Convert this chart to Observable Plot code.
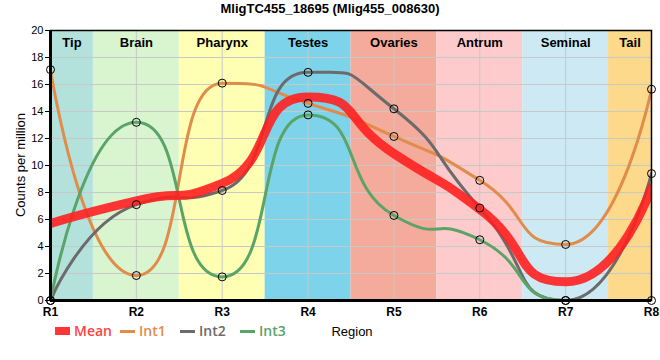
<!DOCTYPE html>
<html><head><meta charset="utf-8">
<script src="https://cdn.jsdelivr.net/npm/d3@7"></script>
<script src="https://cdn.jsdelivr.net/npm/@observablehq/plot@0.6"></script>
<style>
body{margin:0;font-family:"Liberation Sans",Arial,sans-serif;background:#fff;}
#wrap{position:relative;width:660px;height:360px;overflow:hidden;}
#wrap svg{position:absolute;left:0;top:0;}
.abs{position:absolute;white-space:nowrap;}
#title{left:0;top:1px;width:660px;text-align:center;font-weight:bold;font-size:13px;}
#ylab{left:20px;top:165px;transform:translate(-50%,-50%) rotate(-90deg);font-size:13px;}
#xlab{left:352px;top:331px;transform:translate(-50%,-50%);font-size:13px;}
.leg{position:absolute;top:323px;font-size:14px;font-family:"Open Sans",sans-serif;font-weight:600;line-height:16px;}
.sw{position:absolute;}
</style></head><body><div id="wrap">
<div id="title" class="abs">MligTC455_18695 (Mlig455_008630)</div>
<div id="ylab" class="abs">Counts per million</div>
<div id="xlab" class="abs">Region</div>
</div>
<script>
const regions = ["R1","R2","R3","R4","R5","R6","R7","R8"];
const bands = ["Tip","Brain","Pharynx","Testes","Ovaries","Antrum","Seminal","Tail"];
const bandColors = ["#b3e2dd","#d9f5d0","#ffffb4","#7dd3ea","#f4ab9b","#fdcbcb","#cdeaf4","#fdd98b"];
const seriesNames = ["Mean","Int1","Int2","Int3"];
const seriesColors = ["#ff2020","#e08c4a","#6b6b6b","#5aa469"];
const mean = [5.7, 7.38, 8.67, 15.08, 10.88, 6.75, 1.38, 8.35];
const int1 = [17.1, 1.85, 16.1, 14.6, 12.15, 8.9, 4.15, 15.65];
const int2 = [0, 7.1, 8.15, 16.9, 14.2, 6.85, 0, 9.4];
const int3 = [0, 13.2, 1.75, 13.75, 6.3, 4.5, 0, 0];
const yTicks = [0,2,4,6,8,10,12,14,16,18,20];

const pos = regions.map((d,i)=>i+1);
const ints = [int1,int2,int3];

// smooth spline: monotone tangents, long Bezier handles, free ends
function smoothCurve(k){
  return context => {
    let xs, ys;
    return {
      areaStart(){}, areaEnd(){},
      lineStart(){ xs=[]; ys=[]; },
      point(x,y){ xs.push(+x); ys.push(+y); },
      lineEnd(){
        const n = xs.length;
        if (!n) return;
        context.moveTo(xs[0], ys[0]);
        if (n === 1) return;
        const s = [];
        for (let i=0;i<n-1;i++) s.push((ys[i+1]-ys[i])/(xs[i+1]-xs[i]));
        const m = new Array(n).fill(0);
        for (let i=1;i<n-1;i++){
          const h0 = xs[i]-xs[i-1], h1 = xs[i+1]-xs[i];
          const s0 = s[i-1], s1 = s[i];
          const p = (s0*h1 + s1*h0)/(h0+h1);
          m[i] = (Math.sign(s0)+Math.sign(s1))*Math.min(Math.abs(s0),Math.abs(s1),0.5*Math.abs(p)) || 0;
        }
        for (let i=0;i<n-1;i++){
          const h = xs[i+1]-xs[i];
          const c1x = i===0 ? xs[0] : xs[i]+k*h;
          const c1y = i===0 ? ys[0] : ys[i]+m[i]*k*h;
          const c2x = i===n-2 ? xs[n-1] : xs[i+1]-k*h;
          const c2y = i===n-2 ? ys[n-1] : ys[i+1]-m[i+1]*k*h;
          context.bezierCurveTo(c1x,c1y,c2x,c2y,xs[i+1],ys[i+1]);
        }
      }
    };
  };
}
const curve = smoothCurve(0.62);

const lineMark = (vals, color, w, op) => Plot.line(pos, {
  x: d=>d, y: (d,i)=>vals[i], curve, stroke: color,
  strokeWidth: w, strokeOpacity: op, clip: true
});

const chart = Plot.plot({
  width:660, height:360, marginTop:30, marginBottom:60, marginLeft:50, marginRight:9,
  x:{domain:[1,8], axis:null},
  y:{domain:[0,20], axis:null},
  color:{type:"identity"},
  style:{fontFamily:"'Liberation Sans',Arial,sans-serif", background:"transparent"},
  marks:[
    Plot.rect(bands, {x1:(d,i)=>i+0.5, x2:(d,i)=>i+1.5, y1:0, y2:20, fill:(d,i)=>bandColors[i], clip:true}),
    Plot.ruleX(pos, {stroke:"#c8c8c8", strokeWidth:1}),
    Plot.ruleY(yTicks, {stroke:"#c8c8c8", strokeWidth:1}),
    Plot.text(bands, {x:(d,i)=>(Math.max(1,i+0.5)+Math.min(8,i+1.5))/2, y:20, dy:12, text:d=>d,
      fontWeight:"bold", fontSize:13, fill:"black"}),
    ...ints.map((v,k)=>lineMark(v, seriesColors[k+1], 3, 1)),
    lineMark(mean, seriesColors[0], 9, 0.9),
    ...ints.map(v=>Plot.dot(pos, {x:d=>d, y:(d,i)=>v[i], r:4, stroke:"black", strokeWidth:1, fill:"none"})),
    Plot.frame({stroke:"black", strokeWidth:1.5}),
    Plot.ruleX([1], {stroke:"black", strokeWidth:3}),
    Plot.ruleY([0], {stroke:"black", strokeWidth:3}),
    Plot.axisY(yTicks, {tickSize:5, tickPadding:2, fontSize:11, fill:"black", stroke:"black"}),
    Plot.axisX(pos, {tickSize:0, tickPadding:7, fontSize:12, fontWeight:"bold", fill:"black", tickFormat:d=>regions[d-1]})
  ]
});
const wrap = document.getElementById("wrap");
wrap.insertBefore(chart, wrap.firstChild);

// legend
const legX = [55, 120, 180, 240];
seriesNames.forEach((name,k)=>{
  const sw = document.createElement("div");
  sw.className = "sw";
  sw.style.left = legX[k] + "px";
  sw.style.width = "15px";
  if (k===0){ sw.style.top="327px"; sw.style.height="8px"; }
  else { sw.style.top="330px"; sw.style.height="3px"; }
  sw.style.background = seriesColors[k];
  sw.style.opacity = k===0 ? 0.9 : 1;
  wrap.appendChild(sw);
  const t = document.createElement("div");
  t.className = "leg";
  t.style.left = (legX[k]+19) + "px";
  t.style.color = seriesColors[k];
  t.style.opacity = k===0 ? 0.85 : 1;
  t.textContent = name;
  wrap.appendChild(t);
});
</script>
</body></html>
